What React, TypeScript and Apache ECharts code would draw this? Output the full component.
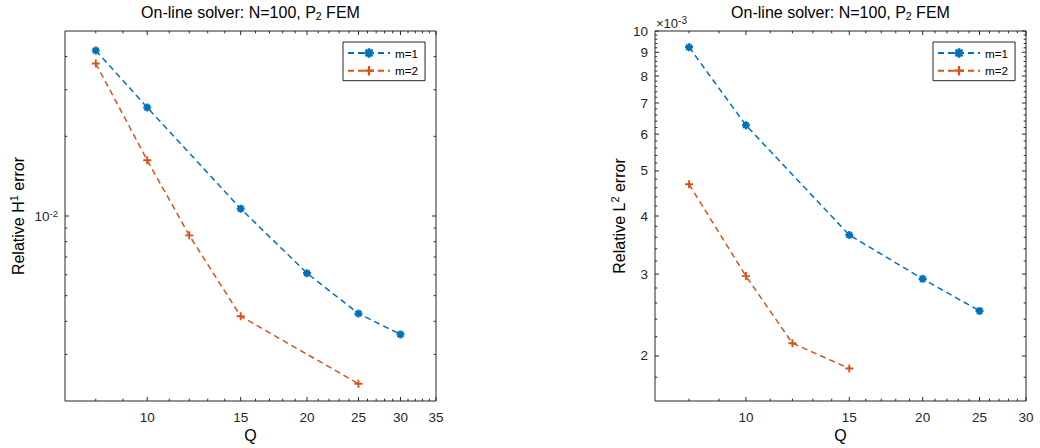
import React, { useEffect, useRef } from 'react';
import * as echarts from 'echarts';

const FONT = '"Liberation Sans", Arial, Helvetica, sans-serif';
const AX = '#262626';
const BLUE = '#0072BD';
const ORANGE = '#D95319';

// ---- Left plot data (relative H1 error) ----
const Q_H1_M1 = [8, 10, 15, 20, 25, 30];
const H1_M1 = [0.0422, 0.0257, 0.01066, 0.00608, 0.00428, 0.00357];
const Q_H1_M2 = [8, 10, 12, 15, 25];
const H1_M2 = [0.0377, 0.01625, 0.00845, 0.00418, 0.002325];

// ---- Right plot data (relative L2 error) ----
const Q_L2_M1 = [8, 10, 15, 20, 25];
const L2_M1 = [0.00923, 0.00627, 0.00364, 0.00293, 0.0025];
const Q_L2_M2 = [8, 10, 12, 15];
const L2_M2 = [0.00468, 0.00297, 0.00213, 0.00188];

// ---- Axis ranges & ticks ----
const X_RANGE_L = [7, 35];
const Y_RANGE_L = [0.002, 0.05];
const X_RANGE_R = [7, 30];
const Y_RANGE_R = [0.0016, 0.01];

const X_MAJOR_L = [10, 15, 20, 25, 30, 35];
const X_LABELS_L = ['10', '15', '20', '25', '30', '35'];
const X_MINOR_L = [8, 9, 11, 12, 13, 14, 16, 17, 18, 19, 21, 22, 23, 24, 26, 27, 28, 29, 31, 32, 33, 34];
const Y_MAJOR_L = [0.01];
const Y_LABELS_L = ['10{sup|-2}'];
const Y_MINOR_L = [0.003, 0.004, 0.005, 0.006, 0.007, 0.008, 0.009, 0.02, 0.03, 0.04];

const X_MAJOR_R = [10, 15, 20, 25, 30];
const X_LABELS_R = ['10', '15', '20', '25', '30'];
const X_MINOR_R = [8, 9, 11, 12, 13, 14, 16, 17, 18, 19, 21, 22, 23, 24, 26, 27, 28, 29];
const Y_MAJOR_R = [0.002, 0.003, 0.004, 0.005, 0.006, 0.007, 0.008, 0.009, 0.01];
const Y_LABELS_R = ['2', '3', '4', '5', '6', '7', '8', '9', '10'];
const Y_MINOR_R = [
  0.0018, 0.0022, 0.0024, 0.0026, 0.0028, 0.0032, 0.0034, 0.0036, 0.0038,
  0.0042, 0.0044, 0.0046, 0.0048, 0.0052, 0.0054, 0.0056, 0.0058,
  0.0062, 0.0064, 0.0066, 0.0068, 0.0072, 0.0074, 0.0076, 0.0078,
  0.0082, 0.0084, 0.0086, 0.0088, 0.0092, 0.0094, 0.0096, 0.0098,
];

const SERIES_NAMES = ['m=1', 'm=2'];
const TITLE = 'On-line solver: N=100, P{sub|2} FEM';
const YNAME_L = 'Relative H{sup|1} error';
const YNAME_R = 'Relative L{sup|2} error';
const XNAME = 'Q';

const ASTERISK =
  'path://M-4,-1.1L4,-1.1L4,1.1L-4,1.1Z M-1.1,-4L1.1,-4L1.1,4L-1.1,4Z M-2.12,-3.54L3.54,2.12L2.12,3.54L-3.54,-2.12Z M-3.54,2.12L2.12,-3.54L3.54,-2.12L-2.12,3.54Z';
const PLUS = 'path://M-4,-0.95L4,-0.95L4,0.95L-4,0.95Z M-0.95,-4L0.95,-4L0.95,4L-0.95,4Z';

const MAJOR_LEN = 4;
const MINOR_LEN = 2.3;
const TICK_FONT = 13.5;

function zip(xs: number[], ys: number[]) {
  return xs.map((x, i) => [x, ys[i]]);
}

function textStyle(size: number, extra: any = {}) {
  return {
    fill: AX,
    fontSize: size,
    fontFamily: FONT,
    ...extra,
  };
}

function xTickSeries(grid: number, major: number[], minor: number[], labels: string[], yFixed: number) {
  const data = [
    ...minor.map((v) => [v, yFixed, 0, -1]),
    ...major.map((v, i) => [v, yFixed, 1, i]),
  ];
  return {
    type: 'custom',
    xAxisIndex: grid,
    yAxisIndex: grid,
    silent: true,
    z: 10,
    clip: false,
    data,
    renderItem: (params: any, api: any) => {
      const cs = params.coordSys;
      const px = api.coord([api.value(0), api.value(1)])[0];
      const isMajor = api.value(2) === 1;
      const len = isMajor ? MAJOR_LEN : MINOR_LEN;
      const bottom = cs.y + cs.height;
      const children: any[] = [
        { type: 'line', shape: { x1: px, y1: bottom, x2: px, y2: bottom - len }, style: { stroke: AX, lineWidth: 1 } },
        { type: 'line', shape: { x1: px, y1: cs.y, x2: px, y2: cs.y + len }, style: { stroke: AX, lineWidth: 1 } },
      ];
      const li = api.value(3);
      if (li >= 0) {
        children.push({
          type: 'text',
          x: px,
          y: bottom + 16.5,
          style: textStyle(TICK_FONT, {
            text: labels[li],
            align: 'center',
            textAlign: 'center',
            verticalAlign: 'middle',
            textVerticalAlign: 'middle',
          }),
        });
      }
      return { type: 'group', children };
    },
  };
}

function yTickSeries(grid: number, major: number[], minor: number[], labels: string[], xFixed: number) {
  const data = [
    ...minor.map((v) => [xFixed, v, 0, -1]),
    ...major.map((v, i) => [xFixed, v, 1, i]),
  ];
  return {
    type: 'custom',
    xAxisIndex: grid,
    yAxisIndex: grid,
    silent: true,
    z: 10,
    clip: false,
    data,
    renderItem: (params: any, api: any) => {
      const cs = params.coordSys;
      const py = api.coord([api.value(0), api.value(1)])[1];
      const isMajor = api.value(2) === 1;
      const len = isMajor ? MAJOR_LEN : MINOR_LEN;
      const right = cs.x + cs.width;
      const children: any[] = [
        { type: 'line', shape: { x1: cs.x, y1: py, x2: cs.x + len, y2: py }, style: { stroke: AX, lineWidth: 1 } },
        { type: 'line', shape: { x1: right, y1: py, x2: right - len, y2: py }, style: { stroke: AX, lineWidth: 1 } },
      ];
      const li = api.value(3);
      if (li >= 0) {
        children.push({
          type: 'text',
          x: cs.x - 7,
          y: py,
          style: textStyle(TICK_FONT, {
            text: labels[li],
            align: 'right',
            textAlign: 'right',
            verticalAlign: 'middle',
            textVerticalAlign: 'middle',
            lineHeight: 16,
            rich: {
              sup: { fill: AX, fontSize: 9.5, fontFamily: FONT, lineHeight: 6, verticalAlign: 'top', textVerticalAlign: 'top' },
            },
          }),
        });
      }
      return { type: 'group', children };
    },
  };
}

function lineSeries(grid: number, name: string, xs: number[], ys: number[], color: string, symbol: string) {
  return {
    type: 'line',
    name,
    xAxisIndex: grid,
    yAxisIndex: grid,
    data: zip(xs, ys),
    symbol,
    symbolSize: 8,
    showSymbol: true,
    z: 5,
    itemStyle: { color },
    lineStyle: { color, width: 1.5, type: [6, 4] },
  };
}

function logAxis(grid: number, range: number[]) {
  return {
    type: 'log',
    logBase: 10,
    gridIndex: grid,
    min: range[0],
    max: range[1],
    axisLine: { show: false },
    axisTick: { show: false },
    axisLabel: { show: false },
    splitLine: { show: false },
  };
}

function legend(left: number) {
  return {
    left,
    top: 42,
    orient: 'vertical',
    data: SERIES_NAMES,
    backgroundColor: '#ffffff',
    borderColor: AX,
    borderWidth: 1,
    borderRadius: 0,
    padding: [5, 7, 4, 4],
    itemWidth: 42,
    itemHeight: 12,
    itemGap: 5.7,
    selectedMode: false,
    textStyle: { color: '#000', fontSize: 11.7, fontFamily: FONT },
  };
}

const titleRich = {
  sub: { fill: '#000', fontSize: 10.5, fontFamily: FONT, lineHeight: 7, verticalAlign: 'bottom', textVerticalAlign: 'bottom' },
};
const nameRich = {
  sup: { fill: '#000', fontSize: 11, fontFamily: FONT, lineHeight: 8, verticalAlign: 'top', textVerticalAlign: 'top' },
};

function gText(x: number, y: number, text: string, size: number, extra: any = {}, rotation = 0) {
  return {
    type: 'text',
    x,
    y,
    rotation,
    silent: true,
    style: {
      text,
      fill: '#000',
      fontSize: size,
      fontFamily: FONT,
      align: 'center',
      textAlign: 'center',
      verticalAlign: 'middle',
      textVerticalAlign: 'middle',
      ...extra,
    },
  };
}

export default function App() {
  const ref = useRef<HTMLDivElement>(null);

  useEffect(() => {
    if (!ref.current) return;
    const chart = echarts.init(ref.current, null, { renderer: 'svg' });

    const gridL = { left: 65, top: 31, width: 371, height: 370 };
    const gridR = { left: 655, top: 31, width: 371, height: 370 };
    const cxL = gridL.left + gridL.width / 2;
    const cxR = gridR.left + gridR.width / 2;
    const cy = gridL.top + gridL.height / 2;

    const option: any = {
      animation: false,
      backgroundColor: '#ffffff',
      textStyle: { fontFamily: FONT },
      grid: [
        { ...gridL, show: true, borderColor: AX, borderWidth: 1, backgroundColor: 'transparent', containLabel: false },
        { ...gridR, show: true, borderColor: AX, borderWidth: 1, backgroundColor: 'transparent', containLabel: false },
      ],
      xAxis: [logAxis(0, X_RANGE_L), logAxis(1, X_RANGE_R)],
      yAxis: [logAxis(0, Y_RANGE_L), logAxis(1, Y_RANGE_R)],
      legend: [legend(343), legend(933)],
      series: [
        lineSeries(0, SERIES_NAMES[0], Q_H1_M1, H1_M1, BLUE, ASTERISK),
        lineSeries(0, SERIES_NAMES[1], Q_H1_M2, H1_M2, ORANGE, PLUS),
        lineSeries(1, SERIES_NAMES[0], Q_L2_M1, L2_M1, BLUE, ASTERISK),
        lineSeries(1, SERIES_NAMES[1], Q_L2_M2, L2_M2, ORANGE, PLUS),
        xTickSeries(0, X_MAJOR_L, X_MINOR_L, X_LABELS_L, Y_RANGE_L[0]),
        yTickSeries(0, Y_MAJOR_L, Y_MINOR_L, Y_LABELS_L, X_RANGE_L[0]),
        xTickSeries(1, X_MAJOR_R, X_MINOR_R, X_LABELS_R, Y_RANGE_R[0]),
        yTickSeries(1, Y_MAJOR_R, Y_MINOR_R, Y_LABELS_R, X_RANGE_R[0]),
      ],
      graphic: [
        gText(cxL, 12.7, TITLE, 16, { lineHeight: 18, rich: titleRich }),
        gText(cxR, 12.7, TITLE, 16, { lineHeight: 18, rich: titleRich }),
        gText(cxL, 435.5, XNAME, 16),
        gText(cxR, 435.5, XNAME, 16),
        gText(18, cy, YNAME_L, 16, { lineHeight: 20, rich: nameRich }, Math.PI / 2),
        gText(619, cy, YNAME_R, 16, { lineHeight: 20, rich: nameRich }, Math.PI / 2),
        gText(656, 23, '\u00d710{sup|-3}', 13, {
          fill: AX,
          align: 'left',
          textAlign: 'left',
          lineHeight: 16,
          rich: { sup: { fill: AX, fontSize: 10, fontFamily: FONT, lineHeight: 7, verticalAlign: 'top', textVerticalAlign: 'top' } },
        }),
      ],
    };

    chart.setOption(option);
    return () => {
      chart.dispose();
    };
  }, []);

  return (
    <div
      ref={ref}
      style={{ position: 'absolute', left: 0, top: 0, width: 1040, height: 448 }}
    />
  );
}
